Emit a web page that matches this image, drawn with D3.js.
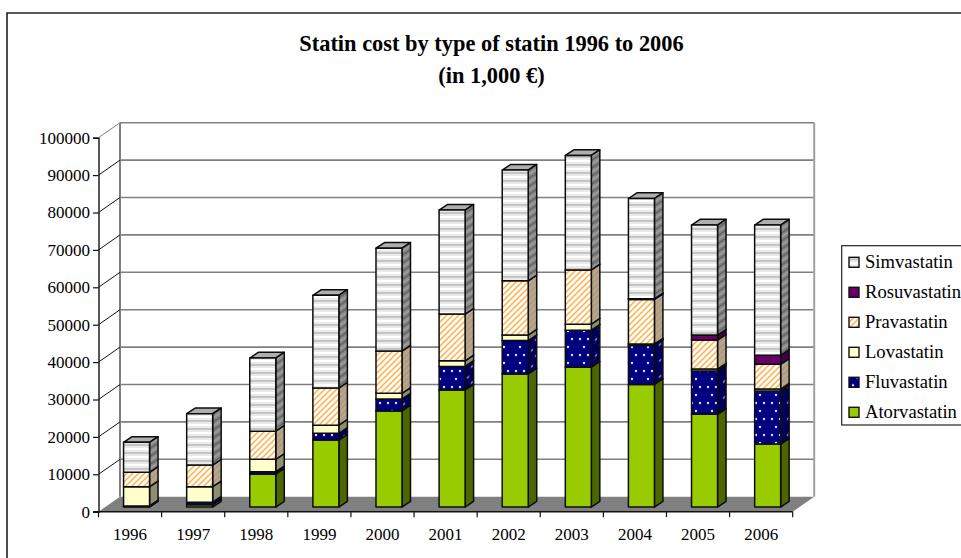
<!DOCTYPE html>
<html>
<head>
<meta charset="utf-8">
<script src="https://cdn.jsdelivr.net/npm/d3@7"></script>
<style>
  html, body { margin: 0; padding: 0; background: #fff; overflow: hidden; }
  svg { display: block; font-family: "Liberation Serif", serif; fill: #000; }
</style>
</head>
<body>
<svg id="chart" width="961" height="558"></svg>
<script>
// Annual statin cost in thousands of euro, one array per drug.
const years = ["1996","1997","1998","1999","2000","2001","2002","2003","2004","2005","2006"];
const atorvastatin = [150, 600, 8800, 17900, 25700, 31300, 35600, 37400, 32800, 24800, 16850];
const fluvastatin  = [150, 700, 640, 1800, 3200, 6300, 8900, 9900, 10400, 11600, 14150];
const lovastatin   = [5130, 4130, 3310, 2200, 1500, 1500, 1500, 1600, 400, 500, 550];
const pravastatin  = [3850, 5800, 7550, 9900, 11300, 12500, 14500, 14500, 11900, 7750, 6600];
const rosuvastatin = [0, 0, 0, 0, 0, 0, 0, 0, 200, 1350, 2410];
const simvastatin  = [8020, 13720, 19550, 24800, 27500, 27800, 29600, 30600, 26800, 29400, 34840];
const drugNames = ["Atorvastatin","Fluvastatin","Lovastatin","Pravastatin","Rosuvastatin","Simvastatin"];
const drugValues = [atorvastatin, fluvastatin, lovastatin, pravastatin, rosuvastatin, simvastatin];
const titleLines = ["Statin cost by type of statin 1996 to 2006", "(in 1,000 €)"];

const svg = d3.select("#chart");
const defs = svg.append("defs");

// Plot box: front floor edge, plus the oblique offset to the back wall.
const front = { left: 98.5, right: 792.7, top: 137.7, bottom: 511.7 };
const depth = { x: 21.5, y: -15 };
const barDepth = { x: 8.5, y: -5.7 };
const skew = Math.atan2(barDepth.y, barDepth.x) * 180 / Math.PI;

const x = d3.scaleBand().domain(years).range([front.left, front.right]).paddingInner(0).paddingOuter(0);
const y = d3.scaleLinear().domain([0, 100000]).range([front.bottom, front.top]);
const barWidth = 26;
// Bars stand midway between the front edge and the back wall.
const barShift = { x: (depth.x - barDepth.x) / 2, y: (depth.y - barDepth.y) / 2 };

// Fill patterns
function stripes(id, colours, transform) {
  const h = 2;
  const p = defs.append("pattern").attr("id", id).attr("patternUnits", "userSpaceOnUse")
    .attr("width", 8).attr("height", colours.length * h);
  if (transform) p.attr("patternTransform", transform);
  colours.forEach((c, i) => p.append("rect").attr("y", i * h).attr("width", 8).attr("height", h).attr("fill", c));
}
function hatch(id, bg, fg) {
  const p = defs.append("pattern").attr("id", id).attr("patternUnits", "userSpaceOnUse")
    .attr("width", 6).attr("height", 6);
  p.append("rect").attr("width", 6).attr("height", 6).attr("fill", bg);
  p.append("path").attr("d", "M-1.5,1.5 L1.5,-1.5 M-1.5,7.5 L7.5,-1.5 M4.5,7.5 L7.5,4.5")
    .attr("stroke", fg).attr("stroke-width", 1.5);
}
function dots(id, bg, fg, transform) {
  const p = defs.append("pattern").attr("id", id).attr("patternUnits", "userSpaceOnUse")
    .attr("width", 16).attr("height", 16);
  if (transform) p.attr("patternTransform", transform);
  p.append("rect").attr("width", 16).attr("height", 16).attr("fill", bg);
  [[4, 3], [12, 3], [8, 11]].forEach(([cx, cy]) =>
    p.append("circle").attr("cx", cx).attr("cy", cy).attr("r", 1.2).attr("fill", fg));
}
stripes("simFront", ["#ffffff", "#eaeaea", "#c4c4c4", "#eaeaea"]);
stripes("simSide", ["#9c9c9c", "#868686", "#666666", "#868686"], `skewY(${skew})`);
hatch("praFront", "#fffdf8", "#ffb050");
hatch("praSide", "#a8a8a8", "#c89448");
dots("fluFront", "#000080", "#e0e0ff");
dots("fluSide", "#000058", "#8080b0", `skewY(${skew})`);

const faces = {
  Atorvastatin: { front: "#99cc00", side: "#4d6600", top: "#4d6600" },
  Fluvastatin:  { front: "url(#fluFront)", side: "url(#fluSide)", top: "#000058" },
  Lovastatin:   { front: "#ffffcc", side: "#8e8e70", top: "#c0c0a0" },
  Pravastatin:  { front: "url(#praFront)", side: "url(#praSide)", top: "#a8a8a8" },
  Rosuvastatin: { front: "#660066", side: "#440044", top: "#440044" },
  Simvastatin:  { front: "url(#simFront)", side: "url(#simSide)", top: "#aeaeae" }
};

// Chart area frame, open towards the right and bottom page edges.
svg.append("path").attr("d", "M7,570 V13 H975").attr("fill", "none").attr("stroke", "#222").attr("stroke-width", 1.6);

// Title
svg.append("g").selectAll("text").data(titleLines).join("text")
  .attr("x", 491.5).attr("y", (d, i) => 50.7 + i * 32)
  .attr("text-anchor", "middle").attr("font-weight", "bold").attr("font-size", 22.4)
  .text(d => d);

// Floor
svg.append("path")
  .attr("d", d3.line()([
    [front.left, front.bottom], [front.left + depth.x, front.bottom + depth.y],
    [front.right + depth.x, front.bottom + depth.y], [front.right, front.bottom]
  ]) + "Z")
  .attr("fill", "#808080");

// Back wall gridlines and side wall diagonals
const yTicks = y.ticks(10);
const grid = svg.append("g");
grid.selectAll("line.h").data(yTicks.filter(d => d > 0)).join("line").attr("class", "h")
  .attr("x1", front.left + depth.x).attr("x2", front.right + depth.x)
  .attr("y1", d => y(d) + depth.y).attr("y2", d => y(d) + depth.y)
  .attr("stroke", "#808080").attr("stroke-width", 1.6);
grid.append("path")
  .attr("d", `M${front.left + depth.x},${y(0) + depth.y} V${y(100000) + depth.y}`)
  .attr("stroke", "#808080").attr("stroke-width", 2).attr("fill", "none");
grid.append("path")
  .attr("d", `M${front.right + depth.x},${y(0) + depth.y} V${y(100000) + depth.y}`)
  .attr("stroke", "#a0a0a0").attr("stroke-width", 2).attr("fill", "none");
grid.selectAll("line.d").data(yTicks.filter(d => d > 0)).join("line").attr("class", "d")
  .attr("x1", front.left).attr("x2", front.left + depth.x)
  .attr("y1", d => y(d)).attr("y2", d => y(d) + depth.y)
  .attr("stroke", d => d === 100000 ? "#808080" : "#111").attr("stroke-width", 1);

// Stacked bars, drawn left to right and bottom to top so upper blocks cover seams.
const stackInput = years.map((yr, i) => {
  const row = { year: yr };
  drugNames.forEach((n, k) => { row[n] = drugValues[k][i]; });
  return row;
});
const series = d3.stack().keys(drugNames)(stackInput);
const barsLayer = svg.append("g");
years.forEach((yr, i) => {
  const g = barsLayer.append("g");
  const x0 = x(yr) + (x.bandwidth() - barWidth) / 2 + barShift.x;
  series.forEach(s => {
    const [v0, v1] = s[i];
    if (v1 <= v0) return;
    const style = faces[s.key];
    const yb = y(v0) + barShift.y, yt = y(v1) + barShift.y;
    const x1 = x0 + barWidth;
    const poly = pts => g.append("path").attr("d", d3.line()(pts) + "Z")
      .attr("stroke", "#0c0c0c").attr("stroke-width", 1.5).attr("stroke-linejoin", "round");
    poly([[x0, yt], [x0 + barDepth.x, yt + barDepth.y], [x1 + barDepth.x, yt + barDepth.y], [x1, yt]]).attr("fill", style.top);
    poly([[x1, yb], [x1 + barDepth.x, yb + barDepth.y], [x1 + barDepth.x, yt + barDepth.y], [x1, yt]]).attr("fill", style.side);
    poly([[x0, yb], [x1, yb], [x1, yt], [x0, yt]]).attr("fill", style.front);
  });
});

// Axes
const yAxis = svg.append("g").attr("transform", `translate(${front.left},0)`)
  .call(d3.axisLeft(y).tickValues(yTicks).tickFormat(d3.format("d")).tickSize(5.5).tickPadding(3));
const xAxis = svg.append("g").attr("transform", `translate(0,${front.bottom})`)
  .call(d3.axisBottom(x).tickSize(0).tickPadding(16));
[yAxis, xAxis].forEach(a => {
  a.attr("font-family", null).attr("font-size", null);
  a.selectAll("text").attr("font-size", 17).attr("fill", "#000");
  a.selectAll("path.domain").attr("stroke", "#111").attr("stroke-width", 1.4);
  a.selectAll("line").attr("stroke", "#111").attr("stroke-width", 1.2);
});
xAxis.select("path.domain").remove();
xAxis.append("line").attr("x1", front.left - 5.5).attr("x2", front.right).attr("y1", 0).attr("y2", 0)
  .attr("stroke", "#111").attr("stroke-width", 1.5);
xAxis.selectAll("line.edge").data(d3.range(years.length + 1)).join("line").attr("class", "edge")
  .attr("x1", i => front.left + i * x.step()).attr("x2", i => front.left + i * x.step())
  .attr("y1", 0).attr("y2", 5.5).attr("stroke", "#111").attr("stroke-width", 1.2);

// Legend, listed from the top of the stack downward.
const legend = svg.append("g");
legend.append("rect").attr("x", 841.7).attr("y", 245.7).attr("width", 140).attr("height", 179.3)
  .attr("fill", "#fff").attr("stroke", "#222").attr("stroke-width", 1.2);
const legendRows = legend.selectAll("g").data(drugNames.slice().reverse()).join("g")
  .attr("transform", (d, i) => `translate(849,${262.3 + i * 30})`);
legendRows.append("rect").attr("x", 0).attr("y", -5).attr("width", 10).attr("height", 10)
  .attr("stroke", "#111").attr("stroke-width", 1.4)
  .attr("fill", d => faces[d].front);
legendRows.append("text").attr("x", 16).attr("y", 6).attr("font-size", 18.6).text(d => d);
</script>
</body>
</html>
